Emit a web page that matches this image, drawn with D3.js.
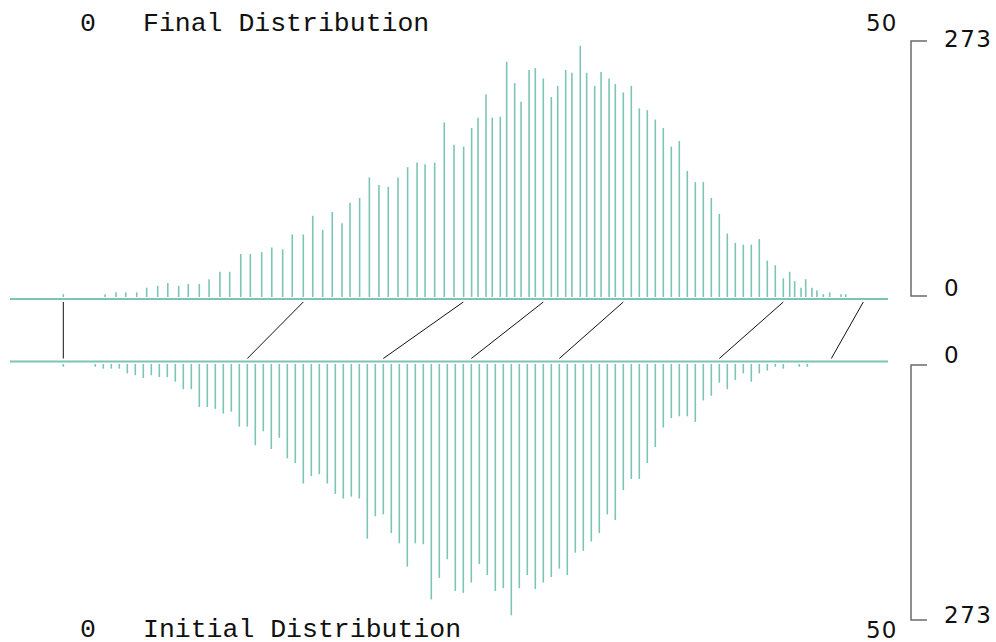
<!DOCTYPE html>
<html>
<head>
<meta charset="utf-8">
<script src="https://cdn.jsdelivr.net/npm/d3@7"></script>
<style>
  body { margin: 0; background: #fff; }
  svg { display: block; }
</style>
</head>
<body>
<div id="chart"></div>
<script>
// counts per bin (same bins, before and after the transform)
const counts = [3,3,5,5,5,10,12,15,12,14,
  14,19,27,27,46,46,48,53,51,67,
  67,87,72,91,79,101,106,128,120,118,
  128,139,144,142,144,187,163,161,181,192,
  217,192,193,252,229,209,243,245,234,214,
  226,243,240,269,240,226,241,234,228,219,
  226,202,200,190,181,161,167,135,123,123,
  106,89,68,58,56,56,62,39,34,20,
  27,17,10,19,10,7,3,5,3,3];

// bin positions on the initial axis (0..50)
const initialX = [0, 2, 2.5, 3, 3.5, 4, 4.5, 5, 5.5, 6,
  6.5, 7, 7.5, 8, 8.5, 9, 9.5, 10, 10.5, 11,
  11.5, 12, 12.5, 13, 13.5, 14, 14.5, 15, 15.5, 16,
  16.5, 17, 17.5, 18, 18.5, 19, 19.5, 20, 20.5, 21,
  21.5, 22, 22.5, 23, 23.5, 24, 24.5, 25, 25.5, 26,
  26.5, 27, 27.5, 28, 28.5, 29, 29.5, 30, 30.5, 31,
  31.5, 32, 32.5, 33, 33.5, 34, 34.5, 35, 35.5, 36,
  36.5, 37, 37.5, 38, 38.5, 39, 39.5, 40, 40.5, 41,
  41.5, 42, 42.5, 43, 43.5, 44, 44.5, 45, 46, 46.5];

// where each bin ends up on the final axis
const finalX = [0, 2.61, 3.29, 3.9, 4.59, 5.21, 5.9, 6.53, 7.21, 7.81,
  8.5, 9.11, 9.79, 10.4, 11.09, 11.69, 12.4, 13.03, 13.71, 14.31,
  15, 15.59, 16.21, 16.81, 17.42, 17.92, 18.52, 19.13, 19.73, 20.31,
  20.92, 21.52, 22.11, 22.61, 23.21, 23.81, 24.42, 25.02, 25.52, 25.92,
  26.42, 26.81, 27.31, 27.71, 28.21, 28.61, 29.11, 29.5, 30, 30.5,
  30.9, 31.4, 31.79, 32.31, 32.71, 33.21, 33.61, 34.11, 34.5, 35,
  35.5, 36, 36.5, 37, 37.5, 38, 38.5, 39, 39.5, 40,
  40.5, 41, 41.5, 42, 42.5, 43, 43.5, 44, 44.5, 45,
  45.4, 45.71, 46.11, 46.4, 46.79, 47.1, 47.5, 47.9, 48.61, 48.9];

// mapping lines: [initial, final]
const links = [[0, 0], [11.5, 15], [20, 25], [25.5, 30], [31, 35], [41, 45], [48, 50]];

const xDomain = [0, 50];
const countMax = 273;

const width = 996, height = 642;
const teal = "#7cc4b6";

const x = d3.scaleLinear().domain(xDomain).range([63.3, 863.3]);
const yTop = d3.scaleLinear().domain([0, countMax]).range([297, 42]);
const yBot = d3.scaleLinear().domain([0, countMax]).range([364, 619]);

const bins = counts.map((c, i) => ({count: c, x0: initialX[i], x1: finalX[i]}));

const svg = d3.create("svg")
    .attr("width", width)
    .attr("height", height)
    .attr("viewBox", [0, 0, width, height]);

// baselines
svg.append("g")
    .attr("stroke", teal)
    .attr("stroke-width", 2)
    .selectAll("line")
    .data([299, 361.5])
    .join("line")
    .attr("x1", 10)
    .attr("x2", 888)
    .attr("y1", d => d)
    .attr("y2", d => d);

// final distribution (top)
svg.append("g")
    .attr("stroke", teal)
    .attr("stroke-width", 1.6)
    .selectAll("line")
    .data(bins)
    .join("line")
    .attr("x1", d => x(d.x1))
    .attr("x2", d => x(d.x1))
    .attr("y1", yTop(0))
    .attr("y2", d => yTop(d.count));

// initial distribution (bottom)
svg.append("g")
    .attr("stroke", teal)
    .attr("stroke-width", 1.6)
    .selectAll("line")
    .data(bins)
    .join("line")
    .attr("x1", d => x(d.x0))
    .attr("x2", d => x(d.x0))
    .attr("y1", yBot(0))
    .attr("y2", d => yBot(d.count));

// connecting lines
svg.append("g")
    .attr("stroke", "#111")
    .attr("stroke-width", 1)
    .selectAll("line")
    .data(links)
    .join("line")
    .attr("x1", d => x(d[1]))
    .attr("y1", 302)
    .attr("x2", d => x(d[0]))
    .attr("y2", 358.5);

// right brackets
const bracket = (y0, y1) => `M927,${y0}H911V${y1}H927`;
svg.append("g")
    .attr("fill", "none")
    .attr("stroke", "#6b6b6b")
    .attr("stroke-width", 1.5)
    .selectAll("path")
    .data([[yTop(countMax) - 1, yTop(0) - 1], [yBot(0) + 1, yBot(countMax) + 1]])
    .join("path")
    .attr("d", d => bracket(d[0], d[1]));

const sans = "'DejaVu Sans', Verdana, sans-serif";
const mono = "'Liberation Mono', 'Courier New', monospace";

// titles + x domain labels
const titles = [
    {y: 30.5, label: "Final Distribution"},
    {y: 637, label: "Initial Distribution"}
];
svg.append("g")
    .selectAll("text")
    .data(titles)
    .join("text")
    .attr("x", 143)
    .attr("y", d => d.y)
    .attr("font-family", mono)
    .attr("font-size", 26.5)
    .attr("fill", "#111")
    .text(d => d.label);

svg.append("g")
    .selectAll("text")
    .data(titles)
    .join("text")
    .attr("x", 88)
    .attr("y", d => d.y)
    .attr("text-anchor", "middle")
    .attr("font-family", mono)
    .attr("font-size", 26.5)
    .attr("fill", "#111")
    .text(xDomain[0]);

svg.append("g")
    .selectAll("text")
    .data([30.5, 638])
    .join("text")
    .attr("x", 866)
    .attr("y", d => d)
    .attr("font-family", sans)
    .attr("font-size", 23)
    .attr("letter-spacing", 1)
    .attr("fill", "#111")
    .text(xDomain[1]);

// count labels on the brackets
const countLabels = [
    {y: 46.7, v: countMax},
    {y: 296, v: 0},
    {y: 362.7, v: 0},
    {y: 622.5, v: countMax}
];
svg.append("g")
    .selectAll("text")
    .data(countLabels)
    .join("text")
    .attr("x", 944)
    .attr("y", d => d.y)
    .attr("font-family", sans)
    .attr("font-size", 23)
    .attr("letter-spacing", 1.5)
    .attr("fill", "#111")
    .text(d => d.v);

d3.select("#chart").node().appendChild(svg.node());
</script>
</body>
</html>
